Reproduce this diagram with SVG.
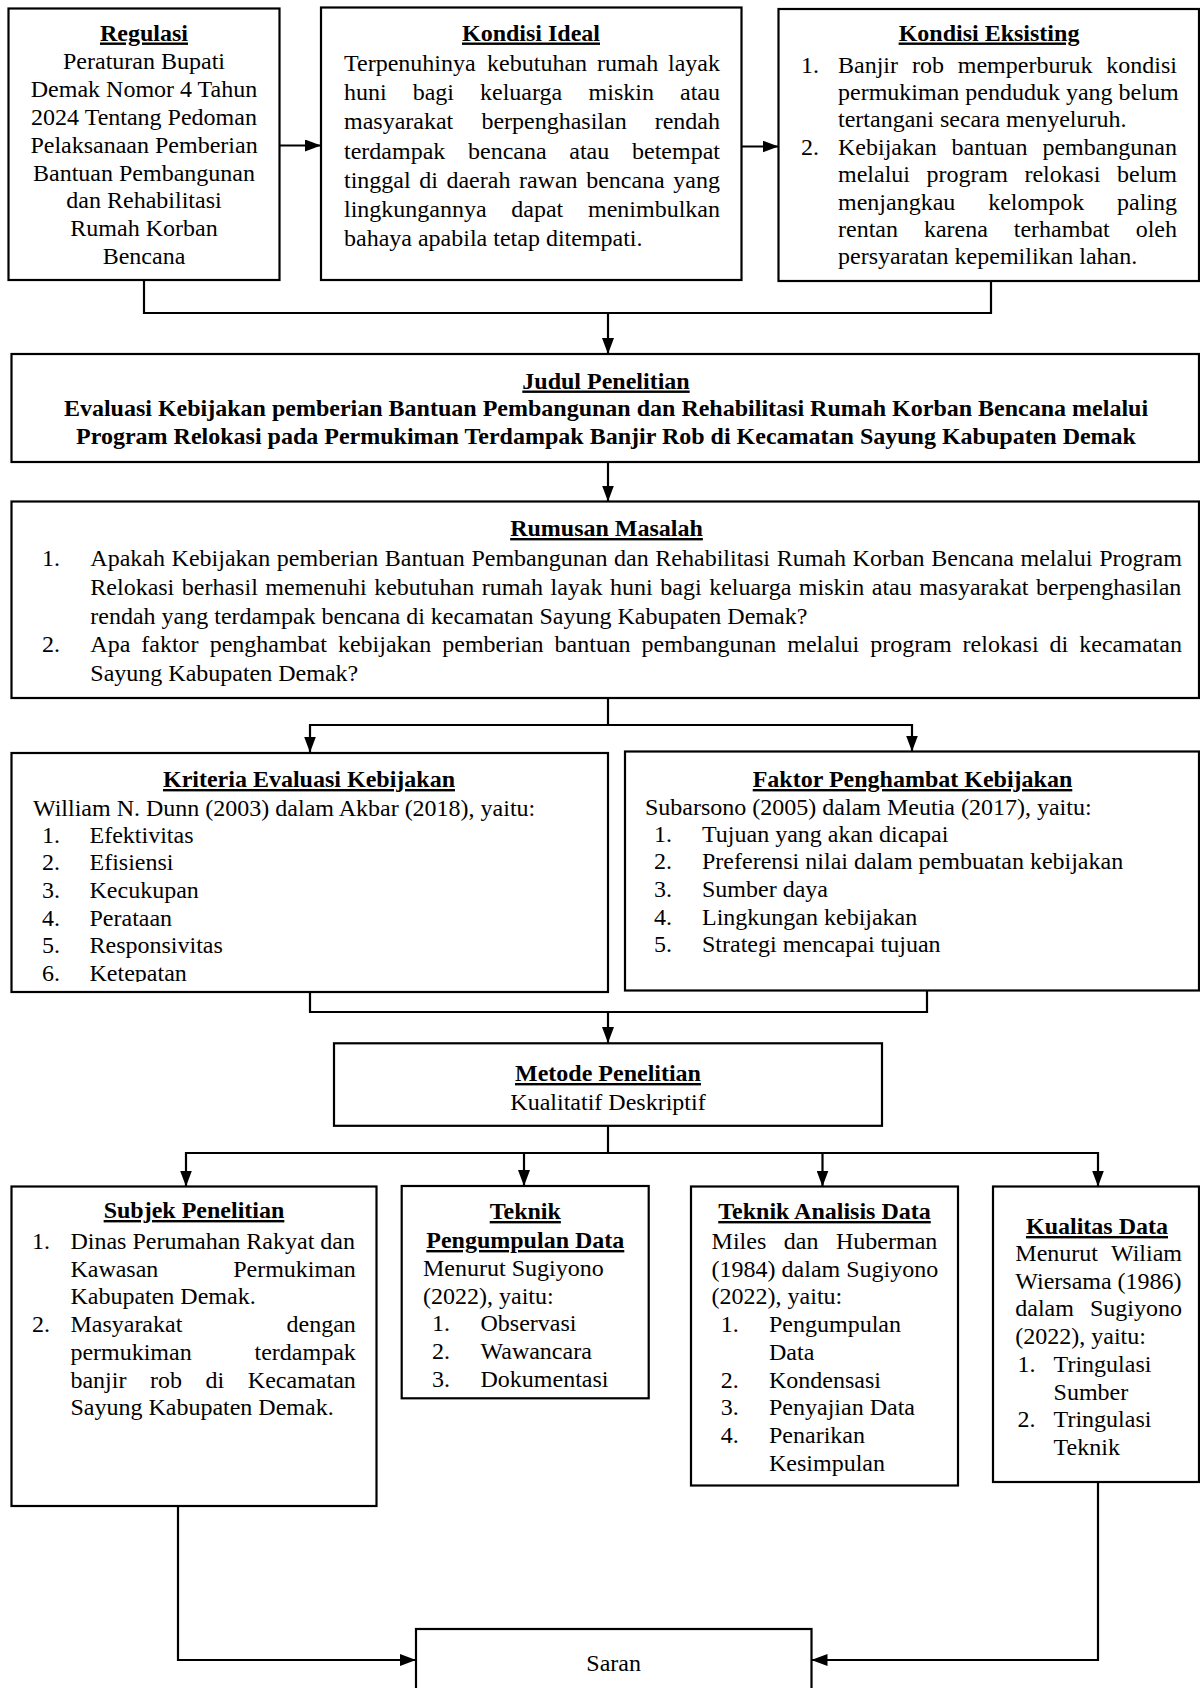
<svg xmlns="http://www.w3.org/2000/svg" width="1200" height="1688" viewBox="0 0 1200 1688">
<style>
.box{fill:#fff;stroke:#000;stroke-width:2.2}
.t{font-family:"Liberation Serif","Times New Roman",serif;font-size:24px;fill:#000}
.h{font-weight:bold;text-decoration:underline}
.bd{font-weight:bold}
.c{text-anchor:middle}
.e{text-anchor:end}
.conn{fill:none;stroke:#000;stroke-width:2.2}
</style>
<defs>
<marker id="ah" markerUnits="userSpaceOnUse" markerWidth="16" markerHeight="12" refX="16" refY="6" orient="auto"><path d="M0,0 L16,6 L0,12 z" fill="#000"/></marker>
<clipPath id="kclip"><rect x="0" y="740" width="620" height="242"/></clipPath>
</defs>
<rect width="1200" height="1688" fill="#fff"/>

<g id="connectors">
<path class="conn" d="M279.5,145.5 H321" marker-end="url(#ah)"/>
<path class="conn" d="M741.5,146.5 H778.5" marker-end="url(#ah)"/>
<path class="conn" d="M144,280 V313 H991 V281"/>
<path class="conn" d="M608,313 V354" marker-end="url(#ah)"/>
<path class="conn" d="M608,462 V501.5" marker-end="url(#ah)"/>
<path class="conn" d="M608,698 V725"/>
<path class="conn" d="M608,725 H310 V752.5" marker-end="url(#ah)"/>
<path class="conn" d="M608,725 H912 V751.5" marker-end="url(#ah)"/>
<path class="conn" d="M310,992 V1012 H927 V991"/>
<path class="conn" d="M608,1012 V1043" marker-end="url(#ah)"/>
<path class="conn" d="M608,1126 V1153"/>
<path class="conn" d="M608,1153 H186 V1186.5" marker-end="url(#ah)"/>
<path class="conn" d="M608,1153 H524 V1186" marker-end="url(#ah)"/>
<path class="conn" d="M608,1153 H822.5 V1186.5" marker-end="url(#ah)"/>
<path class="conn" d="M608,1153 H1098 V1186.5" marker-end="url(#ah)"/>
<path class="conn" d="M178,1506 V1660 H416" marker-end="url(#ah)"/>
<path class="conn" d="M1098,1482 V1660 H811.5" marker-end="url(#ah)"/>
</g>

<g id="regulasi">
<rect class="box" x="8.5" y="8.5" width="271" height="271.5"/>
<text class="t c h" x="144" y="40.5">Regulasi</text>
<text class="t c" x="144" y="69.3">Peraturan Bupati</text>
<text class="t c" x="144" y="97.1">Demak Nomor 4 Tahun</text>
<text class="t c" x="144" y="124.9">2024 Tentang Pedoman</text>
<text class="t c" x="144" y="152.7">Pelaksanaan Pemberian</text>
<text class="t c" x="144" y="180.5">Bantuan Pembangunan</text>
<text class="t c" x="144" y="208.3">dan Rehabilitasi</text>
<text class="t c" x="144" y="236.1">Rumah Korban</text>
<text class="t c" x="144" y="263.9">Bencana</text>
</g>

<g id="kondisi-ideal">
<rect class="box" x="321" y="7.5" width="420.5" height="272.5"/>
<text class="t c h" x="531" y="40.5">Kondisi Ideal</text>
<text class="t" y="71"><tspan x="344">Terpenuhinya</tspan><tspan x="487.1">kebutuhan</tspan><tspan x="596.9">rumah</tspan><tspan x="720" class="e">layak</tspan></text>
<text class="t" y="100.2"><tspan x="344">huni</tspan><tspan x="412.7">bagi</tspan><tspan x="480">keluarga</tspan><tspan x="588.6">miskin</tspan><tspan x="720" class="e">atau</tspan></text>
<text class="t" y="129.4"><tspan x="344">masyarakat</tspan><tspan x="481.4">berpenghasilan</tspan><tspan x="720" class="e">rendah</tspan></text>
<text class="t" y="158.6"><tspan x="344">terdampak</tspan><tspan x="468">bencana</tspan><tspan x="569.3">atau</tspan><tspan x="720" class="e">betempat</tspan></text>
<text class="t" x="344" y="187.8" word-spacing="2.56">tinggal di daerah rawan bencana yang</text>
<text class="t" y="217"><tspan x="344">lingkungannya</tspan><tspan x="511.3">dapat</tspan><tspan x="720" class="e">menimbulkan</tspan></text>
<text class="t" x="344" y="246.2">bahaya apabila tetap ditempati.</text>
</g>

<g id="kondisi-eksisting">
<rect class="box" x="778.5" y="9" width="420.5" height="272"/>
<text class="t c h" x="989" y="40.5">Kondisi Eksisting</text>
<text class="t" x="801" y="72.5">1.</text>
<text class="t" y="72.5"><tspan x="838">Banjir</tspan><tspan x="911.9">rob</tspan><tspan x="957.8">memperburuk</tspan><tspan x="1177" class="e">kondisi</tspan></text>
<text class="t" x="838" y="99.9">permukiman penduduk yang belum</text>
<text class="t" x="838" y="127.3">tertangani secara menyeluruh.</text>
<text class="t" x="801" y="154.7">2.</text>
<text class="t" y="154.7"><tspan x="838">Kebijakan</tspan><tspan x="951.5">bantuan</tspan><tspan x="1177" class="e">pembangunan</tspan></text>
<text class="t" y="182.1"><tspan x="838">melalui</tspan><tspan x="926.6">program</tspan><tspan x="1024.4">relokasi</tspan><tspan x="1177" class="e">belum</tspan></text>
<text class="t" y="209.5"><tspan x="838">menjangkau</tspan><tspan x="988.2">kelompok</tspan><tspan x="1177" class="e">paling</tspan></text>
<text class="t" y="236.9"><tspan x="838">rentan</tspan><tspan x="923.9">karena</tspan><tspan x="1013.8">terhambat</tspan><tspan x="1177" class="e">oleh</tspan></text>
<text class="t" x="838" y="264.3">persyaratan kepemilikan lahan.</text>
</g>

<g id="judul">
<rect class="box" x="11.5" y="354" width="1187.5" height="108"/>
<text class="t c h" x="606" y="388.5">Judul Penelitian</text>
<text class="t c bd" x="606" y="416">Evaluasi Kebijakan pemberian Bantuan Pembangunan dan Rehabilitasi Rumah Korban Bencana melalui</text>
<text class="t c bd" x="606" y="443.5">Program Relokasi pada Permukiman Terdampak Banjir Rob di Kecamatan Sayung Kabupaten Demak</text>
</g>

<g id="rumusan">
<rect class="box" x="11.5" y="501.5" width="1187.5" height="196.5"/>
<text class="t c h" x="606.5" y="536">Rumusan Masalah</text>
<text class="t" x="42" y="566">1.</text>
<text class="t" x="90.3" y="566" word-spacing="0.65">Apakah Kebijakan pemberian Bantuan Pembangunan dan Rehabilitasi Rumah Korban Bencana melalui Program</text>
<text class="t" x="90.3" y="594.8" word-spacing="1.54">Relokasi berhasil memenuhi kebutuhan rumah layak huni bagi keluarga miskin atau masyarakat berpenghasilan</text>
<text class="t" x="90.3" y="623.5">rendah yang terdampak bencana di kecamatan Sayung Kabupaten Demak?</text>
<text class="t" x="42" y="652.3">2.</text>
<text class="t" x="90.3" y="652.3" word-spacing="5.03">Apa faktor penghambat kebijakan pemberian bantuan pembangunan melalui program relokasi di kecamatan</text>
<text class="t" x="90.3" y="681">Sayung Kabupaten Demak?</text>
</g>

<g id="kriteria">
<rect class="box" x="11.5" y="753" width="596.5" height="239"/>
<text class="t c h" x="309" y="787">Kriteria Evaluasi Kebijakan</text>
<text class="t" x="33" y="815.5">William N. Dunn (2003) dalam Akbar (2018), yaitu:</text>
<g clip-path="url(#kclip)">
<text class="t" x="42" y="842.5">1.</text><text class="t" x="89.5" y="842.5">Efektivitas</text>
<text class="t" x="42" y="870.2">2.</text><text class="t" x="89.5" y="870.2">Efisiensi</text>
<text class="t" x="42" y="897.9">3.</text><text class="t" x="89.5" y="897.9">Kecukupan</text>
<text class="t" x="42" y="925.6">4.</text><text class="t" x="89.5" y="925.6">Perataan</text>
<text class="t" x="42" y="953.3">5.</text><text class="t" x="89.5" y="953.3">Responsivitas</text>
<text class="t" x="42" y="981">6.</text><text class="t" x="89.5" y="981">Ketepatan</text>
</g>
</g>

<g id="faktor">
<rect class="box" x="625" y="751.5" width="574" height="239"/>
<text class="t c h" x="912.5" y="787">Faktor Penghambat Kebijakan</text>
<text class="t" x="645" y="814.5">Subarsono (2005) dalam Meutia (2017), yaitu:</text>
<text class="t" x="654" y="841.5">1.</text><text class="t" x="702" y="841.5">Tujuan yang akan dicapai</text>
<text class="t" x="654" y="869.2">2.</text><text class="t" x="702" y="869.2">Preferensi nilai dalam pembuatan kebijakan</text>
<text class="t" x="654" y="896.9">3.</text><text class="t" x="702" y="896.9">Sumber daya</text>
<text class="t" x="654" y="924.6">4.</text><text class="t" x="702" y="924.6">Lingkungan kebijakan</text>
<text class="t" x="654" y="952.3">5.</text><text class="t" x="702" y="952.3">Strategi mencapai tujuan</text>
</g>

<g id="metode">
<rect class="box" x="334" y="1043.3" width="548" height="82.5"/>
<text class="t c h" x="608" y="1081">Metode Penelitian</text>
<text class="t c" x="608" y="1110">Kualitatif Deskriptif</text>
</g>

<g id="subjek">
<rect class="box" x="11.5" y="1186.5" width="365" height="319.5"/>
<text class="t c h" x="194" y="1218">Subjek Penelitian</text>
<text class="t" x="32" y="1249">1.</text>
<text class="t" x="70.4" y="1249">Dinas Perumahan Rakyat dan</text>
<text class="t" y="1276.7"><tspan x="70.4">Kawasan</tspan><tspan x="355.8" class="e">Permukiman</tspan></text>
<text class="t" x="70.4" y="1304.4">Kabupaten Demak.</text>
<text class="t" x="32" y="1332.1">2.</text>
<text class="t" y="1332.1"><tspan x="70.4">Masyarakat</tspan><tspan x="355.8" class="e">dengan</tspan></text>
<text class="t" y="1359.8"><tspan x="70.4">permukiman</tspan><tspan x="355.8" class="e">terdampak</tspan></text>
<text class="t" y="1387.5"><tspan x="70.4">banjir</tspan><tspan x="150">rob</tspan><tspan x="205.6">di</tspan><tspan x="355.8" class="e">Kecamatan</tspan></text>
<text class="t" x="70.4" y="1415.2">Sayung Kabupaten Demak.</text>
</g>

<g id="teknik-pengumpulan">
<rect class="box" x="401.7" y="1186" width="247" height="212.3"/>
<text class="t c h" x="525.3" y="1219">Teknik</text>
<text class="t c h" x="525.3" y="1248">Pengumpulan Data</text>
<text class="t" x="423" y="1276">Menurut Sugiyono</text>
<text class="t" x="423" y="1303.7">(2022), yaitu:</text>
<text class="t" x="432" y="1331.4">1.</text><text class="t" x="480.5" y="1331.4">Observasi</text>
<text class="t" x="432" y="1359.1">2.</text><text class="t" x="480.5" y="1359.1">Wawancara</text>
<text class="t" x="432" y="1386.8">3.</text><text class="t" x="480.5" y="1386.8">Dokumentasi</text>
</g>

<g id="teknik-analisis">
<rect class="box" x="691" y="1186.5" width="267" height="299"/>
<text class="t c h" x="824.5" y="1219">Teknik Analisis Data</text>
<text class="t" y="1249"><tspan x="711.6">Miles</tspan><tspan x="783.8">dan</tspan><tspan x="937.3" class="e">Huberman</tspan></text>
<text class="t" x="711.6" y="1276.7">(1984) dalam Sugiyono</text>
<text class="t" x="711.6" y="1304.4">(2022), yaitu:</text>
<text class="t" x="720.7" y="1332.1">1.</text><text class="t" x="769" y="1332.1">Pengumpulan</text>
<text class="t" x="769" y="1359.8">Data</text>
<text class="t" x="720.7" y="1387.5">2.</text><text class="t" x="769" y="1387.5">Kondensasi</text>
<text class="t" x="720.7" y="1415.2">3.</text><text class="t" x="769" y="1415.2">Penyajian Data</text>
<text class="t" x="720.7" y="1442.9">4.</text><text class="t" x="769" y="1442.9">Penarikan</text>
<text class="t" x="769" y="1470.6">Kesimpulan</text>
</g>

<g id="kualitas">
<rect class="box" x="993" y="1186.5" width="206" height="295.5"/>
<text class="t c h" x="1097" y="1234">Kualitas Data</text>
<text class="t" y="1261"><tspan x="1015.3">Menurut</tspan><tspan x="1182" class="e">Wiliam</tspan></text>
<text class="t" x="1015.3" y="1288.7">Wiersama (1986)</text>
<text class="t" y="1316.4"><tspan x="1015.3">dalam</tspan><tspan x="1182" class="e">Sugiyono</tspan></text>
<text class="t" x="1015.3" y="1344.1">(2022), yaitu:</text>
<text class="t" x="1017.6" y="1371.8">1.</text><text class="t" x="1053.6" y="1371.8">Tringulasi</text>
<text class="t" x="1053.6" y="1399.5">Sumber</text>
<text class="t" x="1017.6" y="1427.2">2.</text><text class="t" x="1053.6" y="1427.2">Tringulasi</text>
<text class="t" x="1053.6" y="1454.9">Teknik</text>
</g>

<g id="saran">
<rect class="box" x="416" y="1629" width="395.5" height="70"/>
<text class="t c" x="613.7" y="1670.7">Saran</text>
</g>
</svg>
